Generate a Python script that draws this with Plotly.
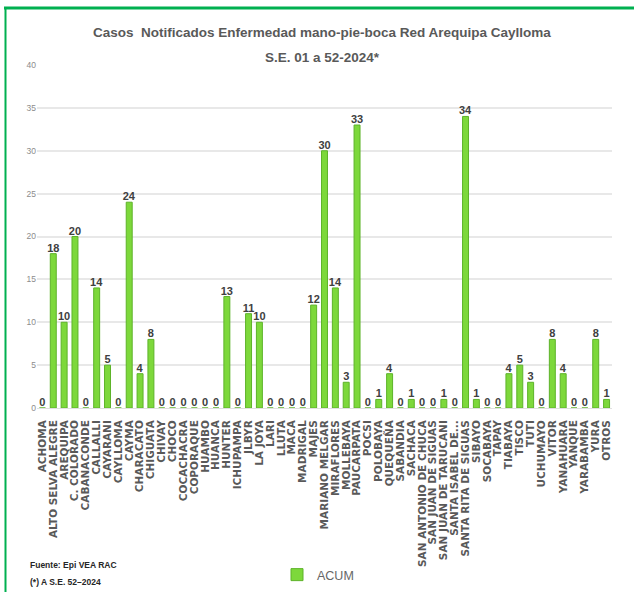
import plotly.graph_objects as go

categories = [
    "ACHOMA", "ALTO SELVA ALEGRE", "AREQUIPA", "C. COLORADO", "CABANACONDE",
    "CALLALLI", "CAYARANI", "CAYLLOMA", "CAYMA", "CHARACATO", "CHIGUATA",
    "CHIVAY", "CHOCO", "COCACHACRA", "COPORAQUE", "HUAMBO", "HUANCA",
    "HUNTER", "ICHUPAMPA", "JLBYR", "LA JOYA", "LARI", "LLUTA", "MACA",
    "MADRIGAL", "MAJES", "MARIANO MELGAR", "MIRAFLORES", "MOLLEBAYA",
    "PAUCARPATA", "POCSI", "POLOBAYA", "QUEQUEÑA", "SABANDIA", "SACHACA",
    "SAN ANTONIO DE CHUCA", "SAN JUAN DE SIGUAS", "SAN JUAN DE TARUCANI",
    "SANTA ISABEL DE...", "SANTA RITA DE SIGUAS", "SIBAYO", "SOCABAYA",
    "TAPAY", "TIABAYA", "TISCO", "TUTI", "UCHUMAYO", "VITOR", "YANAHUARA",
    "YANQUE", "YARABAMBA", "YURA", "OTROS",
]
acum = [
    0, 18, 10, 20, 0,
    14, 5, 0, 24, 4, 8,
    0, 0, 0, 0, 0, 0,
    13, 0, 11, 10, 0, 0, 0,
    0, 12, 30, 14, 3,
    33, 0, 1, 4, 0, 1,
    0, 0, 1,
    0, 34, 1, 0,
    0, 4, 5, 3, 0, 8, 4,
    0, 0, 8, 1,
]
y_ticks = [0, 5, 10, 15, 20, 25, 30, 35, 40]
title_line1 = "Casos  Notificados Enfermedad mano-pie-boca Red Arequipa Caylloma"
title_line2 = "S.E. 01 a 52-2024*"
source_note = "Fuente: Epi VEA RAC"
period_note = "(*) A S.E. 52–2024"

SANS = "Liberation Sans, Arial, sans-serif"

W, H = 634, 592
L, R, T, B = 37, 22, 65, 184
PW, PH = W - L - R, H - T - B


def px(xp):
    return (xp - L) / PW


def py(yp):
    return (H - B - yp) / PH


fig = go.Figure()
fig.add_trace(go.Bar(
    x=categories,
    y=acum,
    name="ACUM",
    marker=dict(color="#7DD83B", line=dict(color="#5DB329", width=1)),
    width=0.55,
    text=[str(v) for v in acum],
    textposition="outside",
    constraintext="none",
    textfont=dict(family=SANS, size=11, color="#404040", weight="bold"),
    cliponaxis=False,
))

fig.update_layout(
    width=W, height=H,
    margin=dict(l=L, r=R, t=T, b=B, autoexpand=False),
    paper_bgcolor="white",
    plot_bgcolor="white",
    xaxis=dict(
        type="category",
        tickmode="array",
        tickvals=categories,
        ticktext=categories,
        tickangle=-90,
        tickfont=dict(family="DejaVu Sans", size=10.5, color="#595959", weight="bold"),
        ticklabelstandoff=7,
        showgrid=False,
        showline=True, linecolor="#E0E0E0", linewidth=1,
        ticks="",
        automargin=False,
    ),
    yaxis=dict(
        range=[0, 40],
        tickvals=y_ticks,
        tickfont=dict(family=SANS, size=8.5, color="#8C8C8C"),
        showgrid=True, gridcolor="#E8E8E8", gridwidth=1.5,
        zeroline=False,
        ticks="",
        automargin=False,
    ),
    showlegend=True,
    legend=dict(
        orientation="h",
        x=px(318), xanchor="center",
        y=py(575), yanchor="middle",
        font=dict(family=SANS, size=12.5, color="#666666"),
        itemwidth=30,
    ),
    annotations=[
        dict(text=title_line1, xref="paper", yref="paper",
             x=px(322), y=py(33), xanchor="center", yanchor="middle", showarrow=False,
             font=dict(family=SANS, size=13.5, color="#595959", weight="bold")),
        dict(text=title_line2, xref="paper", yref="paper",
             x=px(322), y=py(58), xanchor="center", yanchor="middle", showarrow=False,
             font=dict(family=SANS, size=13.5, color="#595959", weight="bold")),
        dict(text=source_note, xref="paper", yref="paper",
             x=px(28), y=py(565), xanchor="left", yanchor="middle", showarrow=False,
             font=dict(family=SANS, size=8.5, color="#262626", weight="bold")),
        dict(text=period_note, xref="paper", yref="paper",
             x=px(28), y=py(582), xanchor="left", yanchor="middle", showarrow=False,
             font=dict(family=SANS, size=8.5, color="#262626", weight="bold")),
    ],
    shapes=[
        dict(type="line", xref="paper", yref="paper", x0=px(4), x1=px(640), y0=py(8), y1=py(8),
             line=dict(color="#00B050", width=3)),
        dict(type="line", xref="paper", yref="paper", x0=px(5.5), x1=px(5.5), y0=py(7), y1=py(600),
             line=dict(color="#00B050", width=2)),
    ],
    bargap=0.45,
)

fig.write_html(
    "out.html",
    config={"displayModeBar": False},
    post_script="document.body.style.margin='0';document.body.style.overflow='hidden';",
)
